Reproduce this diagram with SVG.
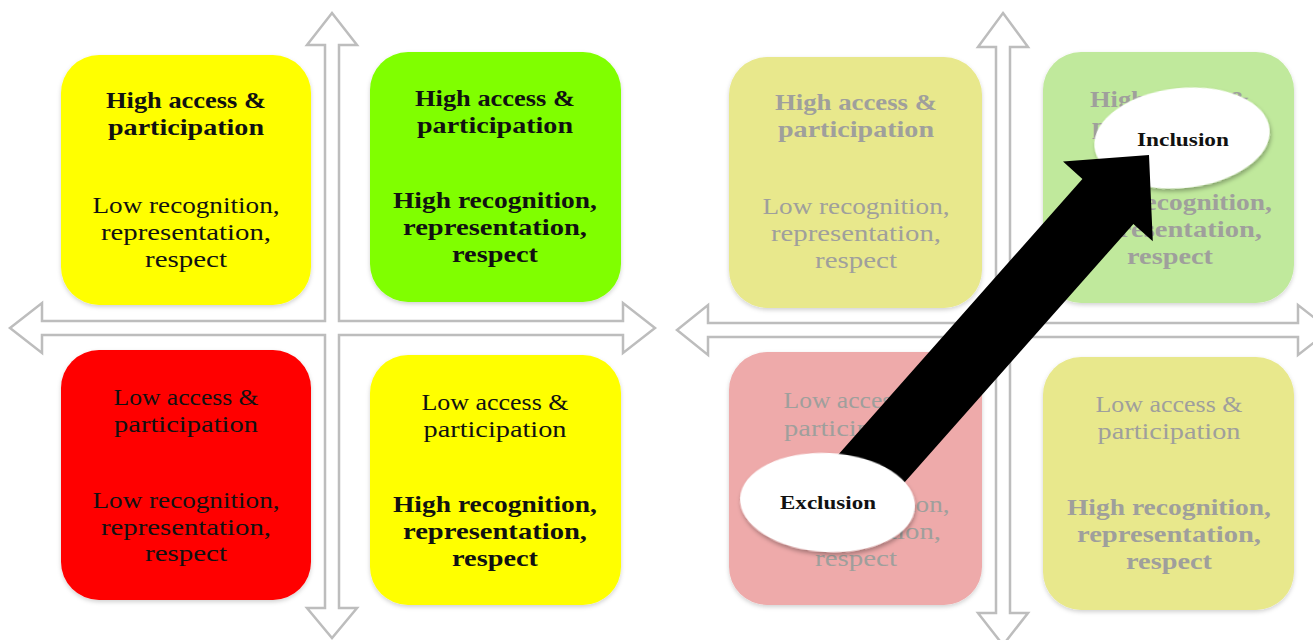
<svg xmlns="http://www.w3.org/2000/svg" width="1313" height="640" viewBox="0 0 1313 640">
<style>
.t{font-family:"Liberation Serif","Times New Roman",serif;font-size:23px;text-anchor:middle;fill:#111}
.b{font-weight:bold}
.f{fill:#9f9f9c}
.axis{fill:#ffffff;stroke:#bdbdbd;stroke-width:2.5;stroke-linejoin:miter}
.e{fill:#ffffff}
.et{font-family:"Liberation Serif","Times New Roman",serif;font-size:19px;font-weight:bold;text-anchor:middle;fill:#111}
</style>
<defs>
<filter id="sh" x="-10%" y="-10%" width="120%" height="125%">
<feDropShadow dx="0" dy="2" stdDeviation="2" flood-color="#000" flood-opacity="0.18"/>
</filter>
<filter id="esh" x="-10%" y="-15%" width="120%" height="140%">
<feDropShadow dx="1" dy="3" stdDeviation="2" flood-color="#000" flood-opacity="0.3"/>
</filter>
</defs>
<rect width="1313" height="640" fill="#ffffff"/>

<g id="connectors">
<path class="axis" d="M332,13 L357,45 L339,45 L339,321 L623,321 L623,303 L655,328 L623,353 L623,335 L339,335 L339,608 L357,608 L332,638 L307,608 L325,608 L325,335 L42,335 L42,353 L10,328 L42,303 L42,321 L325,321 L325,45 L307,45 Z"/>
<path class="axis" d="M1003,13 L1028,47 L1010,47 L1010,323 L1298,323 L1298,305 L1330,330 L1298,355 L1298,337 L1010,337 L1010,613 L1028,613 L1003,645 L978,613 L996,613 L996,337 L708,337 L708,355 L677,330 L708,305 L708,323 L996,323 L996,47 L978,47 Z"/>
</g>

<g id="left-high-access-low-recognition">
<rect x="61" y="55" width="250" height="250" rx="38" fill="#ffff00" filter="url(#sh)"/>
<text class="t b" x="186" y="108" textLength="160" lengthAdjust="spacingAndGlyphs">High access &amp;</text>
<text class="t b" x="186" y="135" textLength="156" lengthAdjust="spacingAndGlyphs">participation</text>
<text class="t" x="186" y="213" textLength="187" lengthAdjust="spacingAndGlyphs">Low recognition,</text>
<text class="t" x="186" y="240" textLength="170" lengthAdjust="spacingAndGlyphs">representation,</text>
<text class="t" x="186" y="267" textLength="82" lengthAdjust="spacingAndGlyphs">respect</text>
</g>

<g id="left-high-access-high-recognition">
<rect x="370" y="52" width="251" height="250" rx="38" fill="#80ff00" filter="url(#sh)"/>
<text class="t b" x="495" y="106" textLength="160" lengthAdjust="spacingAndGlyphs">High access &amp;</text>
<text class="t b" x="495" y="133" textLength="156" lengthAdjust="spacingAndGlyphs">participation</text>
<text class="t b" x="495" y="208" textLength="204" lengthAdjust="spacingAndGlyphs">High recognition,</text>
<text class="t b" x="495" y="235" textLength="184" lengthAdjust="spacingAndGlyphs">representation,</text>
<text class="t b" x="495" y="262" textLength="86" lengthAdjust="spacingAndGlyphs">respect</text>
</g>

<g id="left-low-access-low-recognition">
<rect x="61" y="350" width="250" height="250" rx="38" fill="#ff0000" filter="url(#sh)"/>
<text class="t" x="186" y="405" textLength="145" lengthAdjust="spacingAndGlyphs">Low access &amp;</text>
<text class="t" x="186" y="432" textLength="144" lengthAdjust="spacingAndGlyphs">participation</text>
<text class="t" x="186" y="508" textLength="187" lengthAdjust="spacingAndGlyphs">Low recognition,</text>
<text class="t" x="186" y="535" textLength="170" lengthAdjust="spacingAndGlyphs">representation,</text>
<text class="t" x="186" y="561" textLength="82" lengthAdjust="spacingAndGlyphs">respect</text>
</g>

<g id="left-low-access-high-recognition">
<rect x="370" y="355" width="251" height="250" rx="38" fill="#ffff00" filter="url(#sh)"/>
<text class="t" x="495" y="410" textLength="147" lengthAdjust="spacingAndGlyphs">Low access &amp;</text>
<text class="t" x="495" y="437" textLength="143" lengthAdjust="spacingAndGlyphs">participation</text>
<text class="t b" x="495" y="512" textLength="204" lengthAdjust="spacingAndGlyphs">High recognition,</text>
<text class="t b" x="495" y="539" textLength="184" lengthAdjust="spacingAndGlyphs">representation,</text>
<text class="t b" x="495" y="566" textLength="86" lengthAdjust="spacingAndGlyphs">respect</text>
</g>

<g id="right-high-access-low-recognition">
<rect x="729" y="57" width="253" height="251" rx="38" fill="#e8e88c" filter="url(#sh)"/>
<text class="t b f" x="856" y="110" textLength="162" lengthAdjust="spacingAndGlyphs">High access &amp;</text>
<text class="t b f" x="856" y="137" textLength="156" lengthAdjust="spacingAndGlyphs">participation</text>
<text class="t f" x="856" y="214" textLength="187" lengthAdjust="spacingAndGlyphs">Low recognition,</text>
<text class="t f" x="856" y="241" textLength="170" lengthAdjust="spacingAndGlyphs">representation,</text>
<text class="t f" x="856" y="268" textLength="82" lengthAdjust="spacingAndGlyphs">respect</text>
</g>

<g id="right-high-access-high-recognition">
<rect x="1043" y="52" width="251" height="251" rx="38" fill="#c0e99c" filter="url(#sh)"/>
<text class="t b f" x="1170" y="107" textLength="160" lengthAdjust="spacingAndGlyphs">High access &amp;</text>
<text class="t b f" x="1170" y="134" textLength="156" lengthAdjust="spacingAndGlyphs">participation</text>
<text class="t b f" x="1170" y="210" textLength="204" lengthAdjust="spacingAndGlyphs">High recognition,</text>
<text class="t b f" x="1170" y="237" textLength="184" lengthAdjust="spacingAndGlyphs">representation,</text>
<text class="t b f" x="1170" y="264" textLength="86" lengthAdjust="spacingAndGlyphs">respect</text>
</g>

<g id="right-low-access-low-recognition">
<rect x="729" y="352" width="253" height="253" rx="38" fill="#eeaaaa" filter="url(#sh)"/>
<text class="t f" x="856" y="408" textLength="145" lengthAdjust="spacingAndGlyphs">Low access &amp;</text>
<text class="t f" x="856" y="436" textLength="144" lengthAdjust="spacingAndGlyphs">participation</text>
<text class="t f" x="856" y="512" textLength="187" lengthAdjust="spacingAndGlyphs">Low recognition,</text>
<text class="t f" x="856" y="539" textLength="170" lengthAdjust="spacingAndGlyphs">representation,</text>
<text class="t f" x="856" y="566" textLength="82" lengthAdjust="spacingAndGlyphs">respect</text>
</g>

<g id="right-low-access-high-recognition">
<rect x="1043" y="357" width="251" height="253" rx="38" fill="#e8e88c" filter="url(#sh)"/>
<text class="t f" x="1169" y="412" textLength="147" lengthAdjust="spacingAndGlyphs">Low access &amp;</text>
<text class="t f" x="1169" y="439" textLength="143" lengthAdjust="spacingAndGlyphs">participation</text>
<text class="t b f" x="1169" y="515" textLength="204" lengthAdjust="spacingAndGlyphs">High recognition,</text>
<text class="t b f" x="1169" y="542" textLength="184" lengthAdjust="spacingAndGlyphs">representation,</text>
<text class="t b f" x="1169" y="569" textLength="86" lengthAdjust="spacingAndGlyphs">respect</text>
</g>

<g id="inclusion">
<ellipse class="e" cx="1182" cy="138" rx="88" ry="50" transform="rotate(-6 1182 138)" filter="url(#esh)"/>
<text class="et" x="1183" y="146" textLength="92" lengthAdjust="spacingAndGlyphs">Inclusion</text>
</g>

<g id="connectors-arrow">
<polygon fill="#000000" points="1149,155 1063,161.6 1082.4,178.9 834.4,459 885.4,504 1133.4,223.9 1152.8,241.2"/>
</g>

<g id="exclusion">
<ellipse class="e" cx="827.5" cy="502.5" rx="87.5" ry="49.5" transform="rotate(3 827.5 502.5)" filter="url(#esh)"/>
<text class="et" x="828" y="509" textLength="96" lengthAdjust="spacingAndGlyphs">Exclusion</text>
</g>
</svg>
